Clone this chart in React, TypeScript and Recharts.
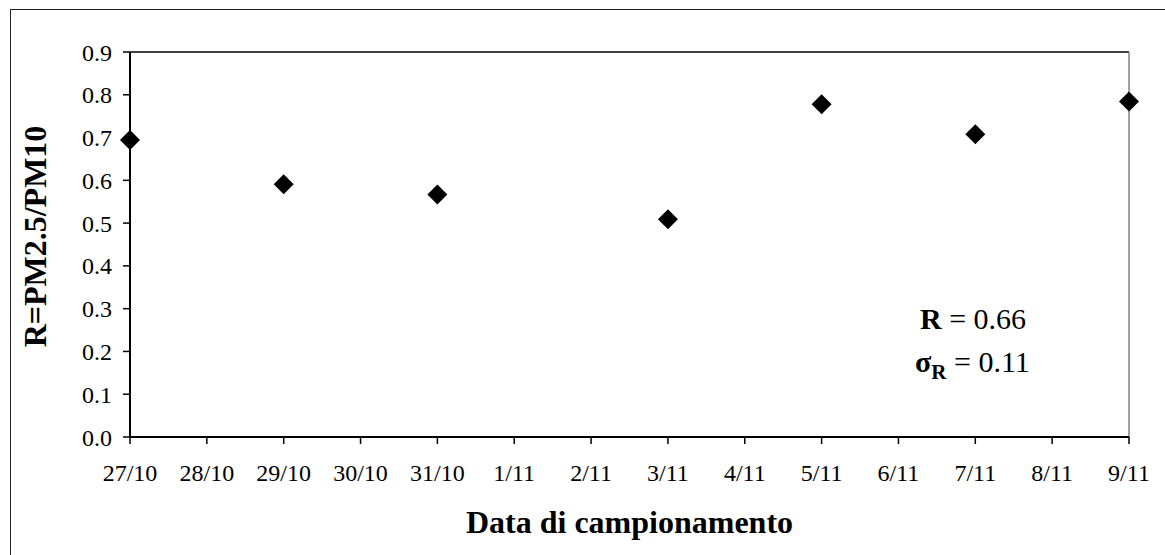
import React from "react"
import {
  ScatterChart,
  Scatter,
  XAxis,
  YAxis,
  ReferenceLine,
  Label,
} from "recharts"

// sampling days on the x axis
const dates = [
  "27/10", "28/10", "29/10", "30/10", "31/10", "1/11", "2/11",
  "3/11", "4/11", "5/11", "6/11", "7/11", "8/11", "9/11",
]

// R = PM2.5/PM10 for each day (null = no sample)
const ratios: (number | null)[] = [
  0.694, null, 0.591, null, 0.567, null, null,
  0.509, null, 0.778, null, 0.708, null, 0.784,
]

const yTicks = [0, 0.1, 0.2, 0.3, 0.4, 0.5, 0.6, 0.7, 0.8, 0.9]
const xTicks = dates.map((_, i) => i)

const meanText = "0.66"
const sigmaText = "0.11"

const FONT = "'Liberation Serif', 'Times New Roman', serif"

const points = ratios
  .map((v, i) => ({ x: i, y: v }))
  .filter(p => p.y !== null)

const Diamond = (props: any) => {
  const { cx, cy } = props
  if (cx == null || cy == null) return <g />
  const s = 10
  return (
    <polygon
      points={`${cx},${cy - s} ${cx + s},${cy} ${cx},${cy + s} ${cx - s},${cy}`}
      fill="#000"
    />
  )
}

const YTitle = (props: any) => {
  const vb = props.viewBox || {}
  const cy = vb.y + vb.height / 2 - 8
  return (
    <text
      x={46}
      y={cy}
      transform={`rotate(-90 46 ${cy})`}
      textAnchor="middle"
      fontFamily={FONT}
      fontWeight="bold"
      fontSize={32}
      fill="#000"
    >
      R=PM2.5/PM10
    </text>
  )
}

const XTitle = (props: any) => {
  const vb = props.viewBox || {}
  return (
    <text
      x={vb.x + vb.width / 2}
      y={533}
      textAnchor="middle"
      fontFamily={FONT}
      fontWeight="bold"
      fontSize={32}
      fill="#000"
    >
      Data di campionamento
    </text>
  )
}

export default function App() {
  return (
    <div
      style={{
        position: "fixed",
        left: 0,
        top: 0,
        width: 1165,
        height: 555,
        overflow: "hidden",
        background: "#fff",
      }}
    >
      {/* outer frame */}
      <div
        style={{
          position: "absolute",
          left: 10,
          top: 9,
          width: 1300,
          height: 700,
          border: "1px solid #222",
        }}
      />
      <div style={{ position: "absolute", left: 0, top: 0 }}>
        <ScatterChart
          width={1165}
          height={555}
          margin={{ top: 52, right: 36, left: 0, bottom: 58 }}
        >
          <XAxis
            type="number"
            dataKey="x"
            domain={[0, 13]}
            ticks={xTicks}
            interval={0}
            tickFormatter={(i: number) => dates[i]}
            height={60}
            axisLine={{ stroke: "#000", strokeWidth: 2 }}
            tickLine={{ stroke: "#000", strokeWidth: 1.5 }}
            tickSize={7}
            tickMargin={20}
            tick={{ fill: "#000", fontSize: 24, fontFamily: FONT }}
          >
            <Label content={<XTitle />} />
          </XAxis>
          <YAxis
            type="number"
            dataKey="y"
            domain={[0, 0.9]}
            ticks={yTicks}
            interval={0}
            tickFormatter={(v: number) => v.toFixed(1)}
            width={130}
            axisLine={{ stroke: "#000", strokeWidth: 2 }}
            tickLine={{ stroke: "#000", strokeWidth: 1.5 }}
            tickSize={7}
            tickMargin={11}
            tick={{ fill: "#000", fontSize: 24, fontFamily: FONT }}
          >
            <Label content={<YTitle />} />
          </YAxis>
          <ReferenceLine y={0.9} stroke="#000" strokeWidth={1.5} />
          <ReferenceLine x={13} stroke="#808080" strokeWidth={1.5} />
          <Scatter
            data={points}
            fill="#000"
            shape={<Diamond />}
            isAnimationActive={false}
          />
        </ScatterChart>
      </div>
      <svg
        width={1165}
        height={555}
        style={{ position: "absolute", left: 0, top: 0, pointerEvents: "none" }}
      >
        <text x={920} y={329} fontFamily={FONT} fontSize={30} fill="#000">
          <tspan fontWeight="bold">R</tspan>
          <tspan> = {meanText}</tspan>
        </text>
        <text x={915} y={372} fontFamily={FONT} fontSize={30} fill="#000">
          <tspan fontWeight="bold">σ</tspan>
          <tspan fontWeight="bold" fontSize={21} dy={7}>R</tspan>
          <tspan dy={-7}> = {sigmaText}</tspan>
        </text>
      </svg>
    </div>
  )
}
